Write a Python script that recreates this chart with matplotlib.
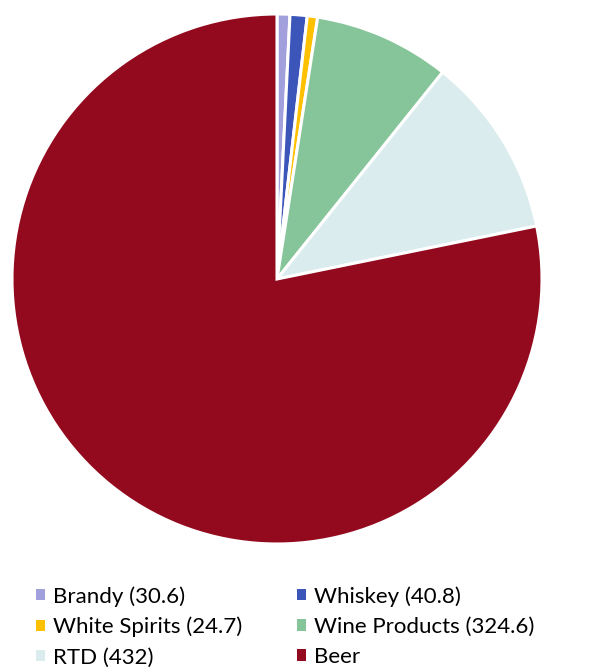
import matplotlib
matplotlib.use("Agg")
import matplotlib.pyplot as plt

categories = ["Brandy", "Whiskey", "White Spirits", "Wine Products", "RTD", "Beer"]
values = [30.6, 40.8, 24.7, 324.6, 432, 3060]
labels = ["Brandy (30.6)", "Whiskey (40.8)", "White Spirits (24.7)",
          "Wine Products (324.6)", "RTD (432)", "Beer"]
colors = ["#A29FDD", "#3C55B8", "#FFC000", "#86C49A", "#DAECEE", "#930A1E"]

W, H = 609, 669
fig = plt.figure(figsize=(W / 100, H / 100), dpi=100)
cx, cy, r = 277, 279, 265
ax = fig.add_axes([(cx - r) / W, 1 - (cy + r) / H, 2 * r / W, 2 * r / H])
wedges, _ = ax.pie(values, colors=colors, startangle=90, counterclock=False,
                   radius=1, wedgeprops=dict(edgecolor="white", linewidth=2.2))
ax.set_xlim(-1, 1)
ax.set_ylim(-1, 1)
ax.set_aspect("equal")
ax.axis("off")

# matplotlib fills column-wise; reorder so rows read as in reference
col_order = [0, 2, 4, 1, 3, 5]
leg = fig.legend([wedges[i] for i in col_order], [labels[i] for i in col_order],
                 ncol=2, loc="upper left", bbox_to_anchor=(36 / W, 1 - 586 / H),
                 frameon=False, handlelength=0.42, handleheight=0.42,
                 handletextpad=0.36, columnspacing=2.45, labelspacing=0.46,
                 borderpad=0, borderaxespad=0,
                 prop=dict(family="Lato", size=16))
for h in leg.legend_handles:
    h.set_edgecolor("none")

fig.savefig("out.png", dpi=100)
